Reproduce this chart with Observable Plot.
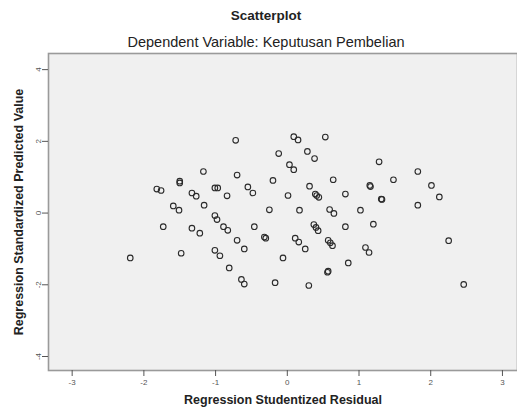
<!DOCTYPE html>
<html>
<head>
<meta charset="utf-8">
<script src="https://cdn.jsdelivr.net/npm/d3@7"></script>
<script src="https://cdn.jsdelivr.net/npm/@observablehq/plot@0.6"></script>
<style>
  html, body { margin: 0; padding: 0; background: #fff; }
  #wrap { position: relative; width: 517px; height: 412px; font-family: "Liberation Sans", Arial, sans-serif; }
  .ttl { position: absolute; left: 0; width: 532px; text-align: center; color: #222; }
  #t1 { top: 8px; font-size: 13.5px; font-weight: bold; }
  #t2 { top: 34px; font-size: 14.5px; }
  #chart { position: absolute; left: 0; top: 0; }
</style>
</head>
<body>
<div id="wrap">
  <div id="chart"></div>
  <div class="ttl" id="t1">Scatterplot</div>
  <div class="ttl" id="t2">Dependent Variable: Keputusan Pembelian</div>
</div>
<script>
const titleText = "Scatterplot";
const subtitleText = "Dependent Variable: Keputusan Pembelian";
const xLabel = "Regression Studentized Residual";
const yLabel = "Regression Standardized Predicted Value";
const xTicks = [-3, -2, -1, 0, 1, 2, 3];
const yTicks = [-4, -2, 0, 2, 4];

const residual = [
  -0.72, 0.09, 0.15, 0.53, -0.12, 0.28, 0.38, 0.03, 0.09, -1.17,
  -0.70, -1.50, -1.50, -0.20, -1.82, -1.76, -1.01, -0.97, -0.55, -0.48,
  -1.33, -1.27, -0.84, 0.01, -1.59, -1.51, -1.16, -0.25, 1.28, 1.82,
  0.64, 1.48, 1.15, 1.16, 0.31, 2.01, 0.39, 0.44, 0.41, 0.81,
  1.32, 1.31, 2.12, 1.82, 0.17, 0.59, 0.65, 1.02, -1.01, -0.98,
  -1.73, -1.33, -1.22, -0.89, -0.83, -0.46, -0.32, -0.30, -0.70, -0.60,
  0.11, 0.16, -2.19, -1.48, -1.01, -0.94, -0.06, -0.81, -0.64, -0.60,
  -0.17, 0.37, 0.40, 0.43, 0.81, 1.20, 2.25, 0.25, 0.57, 0.63,
  0.60, 1.09, 1.14, 0.85, 0.56, 0.57, 0.30, 2.46
];
const predicted = [
  2.03, 2.13, 2.04, 2.12, 1.66, 1.72, 1.52, 1.35, 1.21, 1.16,
  1.06, 0.89, 0.84, 0.91, 0.67, 0.63, 0.70, 0.70, 0.73, 0.56,
  0.56, 0.47, 0.48, 0.49, 0.20, 0.08, 0.22, 0.09, 1.43, 1.16,
  0.93, 0.93, 0.77, 0.74, 0.75, 0.77, 0.53, 0.44, 0.49, 0.53,
  0.38, 0.39, 0.45, 0.22, 0.08, 0.10, -0.01, 0.08, -0.07, -0.18,
  -0.38, -0.42, -0.56, -0.38, -0.48, -0.38, -0.67, -0.70, -0.76, -1.00,
  -0.70, -0.81, -1.25, -1.12, -1.04, -1.19, -1.25, -1.53, -1.85, -1.98,
  -1.94, -0.32, -0.40, -0.49, -0.38, -0.31, -0.77, -1.00, -0.76, -0.91,
  -0.83, -0.96, -1.10, -1.39, -1.65, -1.62, -2.02, -1.99
];

const data = residual.map((x, i) => ({x, y: predicted[i]}));

const plot = Plot.plot({
  width: 517,
  height: 412,
  marginTop: 53,
  marginLeft: 48,
  marginRight: 0,
  marginBottom: 42,
  style: { fontFamily: "Liberation Sans, Arial, sans-serif", background: "transparent" },
  x: { domain: [-3.33, 3.21], label: null },
  y: { domain: [-4.39, 4.45], label: null },
  marks: [
    Plot.frame({ fill: "#f0f0f0", stroke: "#9a9a9a", strokeWidth: 1.6 }),
    Plot.axisX({ ticks: xTicks, tickFormat: d => String(d), tickSize: 6, tickPadding: 3, fontSize: 8, fill: "#555", stroke: "#555", label: null }),
    Plot.axisY({ ticks: yTicks, tickFormat: d => String(d), tickSize: 6, tickPadding: 2, fontSize: 8, fill: "#555", stroke: "#555", tickRotate: -90, label: null }),
    Plot.dot(data, { x: "x", y: "y", r: 2.8, stroke: "#2a2a2a", strokeWidth: 1.1, fill: "none" }),
    Plot.text([xLabel], { text: d => d, frameAnchor: "bottom", dy: 33, fontSize: 12.5, fontWeight: "bold", fill: "#222" }),
    Plot.text([yLabel], { text: d => d, frameAnchor: "left", dx: -30, rotate: -90, textAnchor: "middle", fontSize: 12.5, fontWeight: "bold", fill: "#222" })
  ]
});
document.getElementById("chart").appendChild(plot);
</script>
</body>
</html>
